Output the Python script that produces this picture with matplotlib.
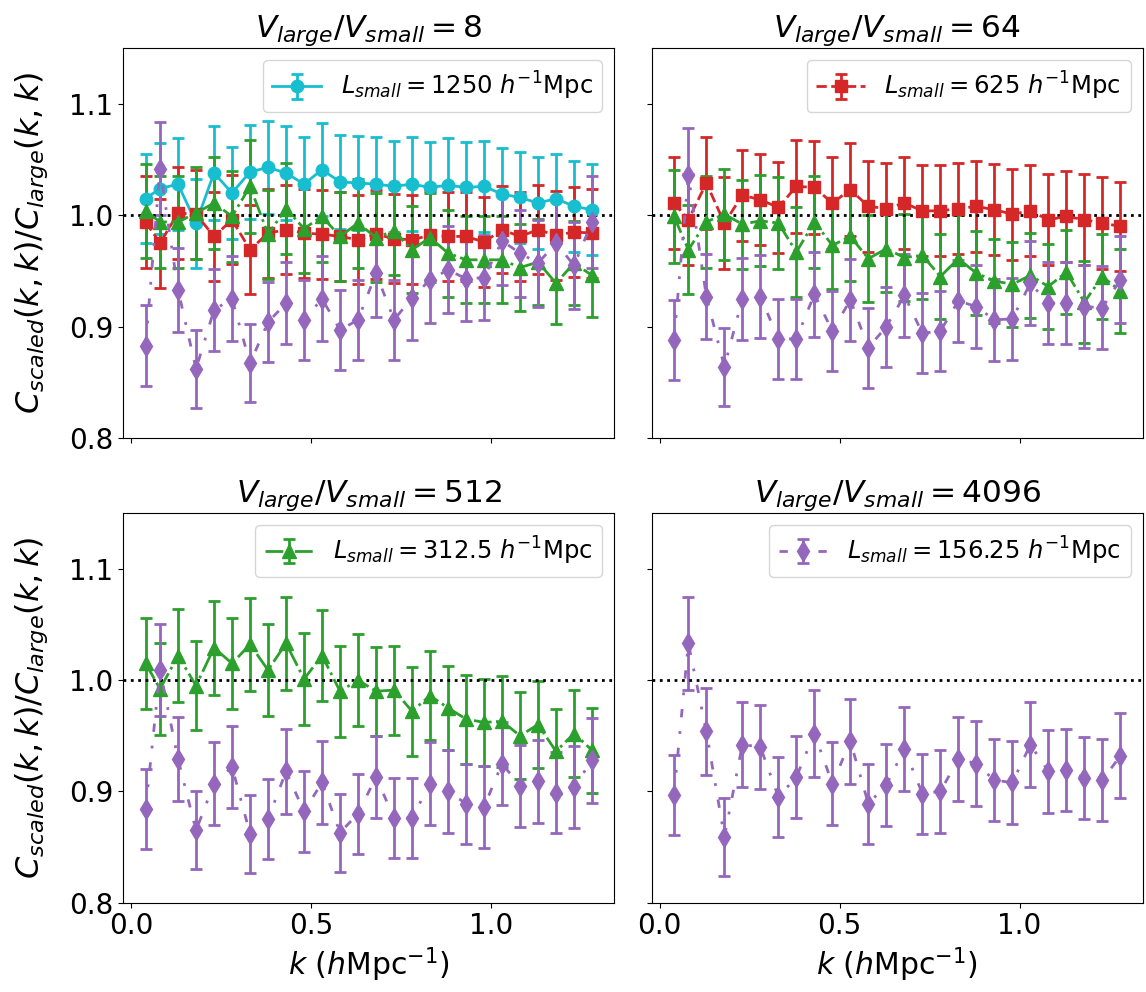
import matplotlib.pyplot as plt

k_vals = [0.04, 0.08, 0.13, 0.18, 0.23, 0.28, 0.33, 0.38, 0.43, 0.48, 0.53, 0.58, 0.63,
          0.68, 0.73, 0.78, 0.83, 0.88, 0.93, 0.98, 1.03, 1.08, 1.13, 1.18, 1.23, 1.28]

volume_ratios = [8, 64, 512, 4096]
box_sizes = ["1250", "625", "312.5", "156.25"]

# V_large/V_small = 8
c1250_v8 = [1.015, 1.024, 1.028, 0.993, 1.038, 1.020, 1.039, 1.043, 1.038, 1.028, 1.041, 1.030, 1.029,
            1.028, 1.026, 1.028, 1.025, 1.027, 1.025, 1.026, 1.019, 1.016, 1.011, 1.015, 1.008, 1.005]
e1250_v8 = [0.040, 0.041, 0.041, 0.040, 0.042, 0.041, 0.042, 0.042, 0.042, 0.042, 0.042, 0.042, 0.042,
            0.042, 0.041, 0.042, 0.041, 0.042, 0.041, 0.041, 0.041, 0.041, 0.041, 0.040, 0.041, 0.041]
c625_v8 = [0.994, 0.975, 1.002, 1.001, 0.981, 0.996, 0.969, 0.984, 0.987, 0.984, 0.983, 0.981, 0.978,
           0.983, 0.979, 0.978, 0.982, 0.981, 0.981, 0.976, 0.987, 0.981, 0.987, 0.982, 0.985, 0.984]
e625_v8 = [0.041, 0.040, 0.041, 0.040, 0.040, 0.040, 0.040, 0.040, 0.040, 0.040, 0.040, 0.040, 0.040,
           0.040, 0.040, 0.040, 0.040, 0.040, 0.040, 0.040, 0.039, 0.040, 0.040, 0.040, 0.040, 0.040]
c312_v8 = [1.004, 0.994, 0.994, 1.002, 1.011, 0.999, 1.026, 0.983, 1.006, 0.988, 0.999, 0.981, 0.993,
           0.980, 0.986, 0.969, 0.980, 0.966, 0.960, 0.960, 0.960, 0.953, 0.958, 0.939, 0.957, 0.946]
e312_v8 = [0.042, 0.041, 0.041, 0.041, 0.041, 0.041, 0.042, 0.040, 0.041, 0.040, 0.041, 0.040, 0.040,
           0.040, 0.040, 0.039, 0.040, 0.039, 0.039, 0.039, 0.039, 0.039, 0.039, 0.037, 0.038, 0.037]
c156_v8 = [0.883, 1.042, 0.933, 0.862, 0.915, 0.925, 0.867, 0.904, 0.921, 0.906, 0.925, 0.897, 0.906,
           0.948, 0.906, 0.926, 0.942, 0.951, 0.943, 0.944, 0.977, 0.966, 0.957, 0.975, 0.955, 0.994]
e156_v8 = [0.036, 0.042, 0.038, 0.035, 0.037, 0.038, 0.035, 0.036, 0.037, 0.036, 0.038, 0.036, 0.036,
           0.039, 0.036, 0.038, 0.039, 0.039, 0.038, 0.038, 0.040, 0.039, 0.039, 0.040, 0.039, 0.041]

# V_large/V_small = 64
c625_v64 = [1.011, 0.996, 1.029, 0.993, 1.018, 1.014, 1.007, 1.026, 1.025, 1.011, 1.023, 1.008, 1.006,
            1.011, 1.004, 1.004, 1.006, 1.008, 1.005, 1.001, 1.004, 0.996, 0.999, 0.996, 0.993, 0.990]
e625_v64 = [0.041, 0.041, 0.041, 0.041, 0.041, 0.041, 0.041, 0.042, 0.042, 0.041, 0.042, 0.041, 0.041,
            0.041, 0.041, 0.041, 0.041, 0.041, 0.041, 0.041, 0.041, 0.041, 0.041, 0.041, 0.041, 0.040]
c312_v64 = [0.999, 0.969, 0.994, 1.001, 0.992, 0.995, 0.993, 0.967, 0.994, 0.973, 0.981, 0.961, 0.970,
            0.962, 0.964, 0.945, 0.961, 0.948, 0.941, 0.938, 0.946, 0.936, 0.949, 0.922, 0.945, 0.932]
e312_v64 = [0.042, 0.040, 0.041, 0.041, 0.040, 0.041, 0.041, 0.040, 0.041, 0.039, 0.040, 0.039, 0.039,
            0.039, 0.039, 0.038, 0.039, 0.038, 0.038, 0.038, 0.038, 0.038, 0.038, 0.037, 0.038, 0.038]
c156_v64 = [0.888, 1.036, 0.927, 0.864, 0.925, 0.927, 0.889, 0.889, 0.929, 0.896, 0.924, 0.881, 0.900,
            0.928, 0.894, 0.896, 0.923, 0.918, 0.906, 0.907, 0.939, 0.921, 0.921, 0.918, 0.917, 0.942]
e156_v64 = [0.036, 0.042, 0.038, 0.035, 0.037, 0.037, 0.036, 0.036, 0.038, 0.036, 0.037, 0.036, 0.036,
            0.037, 0.036, 0.036, 0.037, 0.037, 0.037, 0.037, 0.038, 0.037, 0.037, 0.037, 0.037, 0.039]

# V_large/V_small = 512
c312_v512 = [1.015, 0.992, 1.022, 0.995, 1.029, 1.015, 1.032, 1.009, 1.033, 1.001, 1.022, 0.990, 1.000,
             0.990, 0.991, 0.972, 0.986, 0.975, 0.965, 0.962, 0.963, 0.950, 0.960, 0.936, 0.952, 0.937]
e312_v512 = [0.041, 0.041, 0.042, 0.040, 0.042, 0.041, 0.042, 0.041, 0.042, 0.041, 0.041, 0.041, 0.041,
             0.040, 0.040, 0.040, 0.040, 0.038, 0.040, 0.039, 0.041, 0.039, 0.039, 0.038, 0.039, 0.038]
c156_v512 = [0.884, 1.009, 0.929, 0.865, 0.907, 0.922, 0.862, 0.875, 0.918, 0.882, 0.908, 0.863, 0.880,
             0.913, 0.876, 0.876, 0.907, 0.900, 0.889, 0.886, 0.925, 0.905, 0.909, 0.899, 0.904, 0.928]
e156_v512 = [0.036, 0.041, 0.038, 0.035, 0.037, 0.037, 0.035, 0.036, 0.038, 0.036, 0.037, 0.035, 0.036,
             0.037, 0.036, 0.036, 0.037, 0.037, 0.036, 0.037, 0.037, 0.037, 0.037, 0.036, 0.037, 0.038]

# V_large/V_small = 4096
c156_v4096 = [0.897, 1.033, 0.954, 0.859, 0.942, 0.940, 0.895, 0.913, 0.952, 0.907, 0.945, 0.889, 0.906,
              0.938, 0.898, 0.900, 0.929, 0.925, 0.910, 0.908, 0.942, 0.918, 0.919, 0.912, 0.910, 0.932]
e156_v4096 = [0.036, 0.042, 0.039, 0.035, 0.038, 0.038, 0.036, 0.037, 0.039, 0.037, 0.038, 0.036, 0.037,
              0.038, 0.036, 0.037, 0.038, 0.038, 0.037, 0.037, 0.038, 0.037, 0.037, 0.037, 0.037, 0.038]

# one entry per box size: colour, marker, marker size, line style
styles = {
    "1250": ("#17becf", "o", 9, "-"),
    "625": ("#d62728", "s", 9, "--"),
    "312.5": ("#2ca02c", "^", 9.5, "-."),
    "156.25": ("#9467bd", "d", 10.5, (0, (3, 5, 1, 5))),
}

panels = [
    [("1250", c1250_v8, e1250_v8), ("625", c625_v8, e625_v8),
     ("312.5", c312_v8, e312_v8), ("156.25", c156_v8, e156_v8)],
    [("625", c625_v64, e625_v64), ("312.5", c312_v64, e312_v64), ("156.25", c156_v64, e156_v64)],
    [("312.5", c312_v512, e312_v512), ("156.25", c156_v512, e156_v512)],
    [("156.25", c156_v4096, e156_v4096)],
]

fig, axes = plt.subplots(2, 2, figsize=(11.46, 9.92), dpi=100, sharex=True, sharey=True)
plt.subplots_adjust(left=0.1076, right=0.9971, top=0.9513, bottom=0.09, wspace=0.076, hspace=0.193)

for ax, ratio, series in zip(axes.flat, volume_ratios, panels):
    for i, (size, vals, errs) in enumerate(series):
        color, marker, ms, ls = styles[size]
        label = None
        if i == 0:
            label = r"$L_{small} = %s\ h^{-1}$Mpc" % size
        ax.errorbar(k_vals, vals, yerr=errs, color=color, marker=marker, ms=ms,
                    ls=ls, lw=2, elinewidth=2, capsize=4, capthick=2, label=label)
    ax.axhline(1.0, color="k", ls=":", lw=2)
    ax.set_title(r"$V_{large}/V_{small} = %d$" % ratio, fontsize=22.5)
    ax.legend(loc="upper right", fontsize=17.5)
    ax.tick_params(labelsize=20)

axes[0, 0].set_ylim(0.8, 1.15)
axes[0, 0].set_yticks([0.8, 0.9, 1.0, 1.1])
axes[0, 0].set_xticks([0.0, 0.5, 1.0])
for ax in axes[:, 0]:
    ax.set_ylabel(r"$C_{scaled}(k,k)/C_{large}(k,k)$", fontsize=23, labelpad=14)
for ax in axes[1, :]:
    ax.set_xlabel(r"$k$ ($h$Mpc$^{-1}$)", fontsize=21.5)

plt.savefig("out.png", dpi=100)
